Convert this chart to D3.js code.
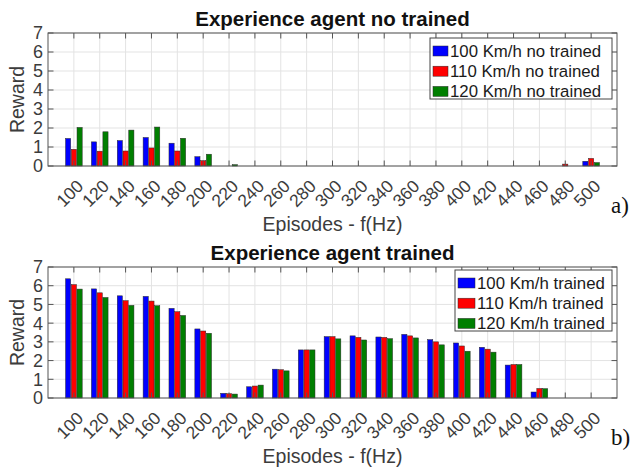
<!DOCTYPE html>
<html>
<head>
<meta charset="utf-8">
<script src="https://cdn.jsdelivr.net/npm/d3@7"></script>
<style>
  html, body { margin: 0; padding: 0; background: #fff; }
  svg { display: block; font-family: "Liberation Sans", Arial, Helvetica, sans-serif; }
</style>
</head>
<body>
<svg id="chart" width="634" height="469"></svg>
<script>
// Episode frequencies (Hz) on the x axis
const episodes = [100, 120, 140, 160, 180, 200, 220, 240, 260, 280, 300,
                  320, 340, 360, 380, 400, 420, 440, 460, 480, 500];
const yTicks = [0, 1, 2, 3, 4, 5, 6, 7];
const barColors = ["#0000ff", "#ff0000", "#007f00"];

// Agent without training
const untrainedNames = ["100 Km/h no trained", "110 Km/h no trained", "120 Km/h no trained"];
const untrained100 = [1.45, 1.27, 1.34, 1.50, 1.20, 0.49, 0, 0, 0, 0, 0, 0, 0, 0, 0, 0, 0, 0, 0, 0, 0.25];
const untrained110 = [0.88, 0.78, 0.79, 0.95, 0.79, 0.28, 0, 0, 0, 0, 0, 0, 0, 0, 0, 0, 0, 0, 0, 0.10, 0.40];
const untrained120 = [2.03, 1.80, 1.89, 2.05, 1.46, 0.62, 0.07, 0, 0, 0, 0, 0, 0, 0, 0, 0, 0, 0, 0, 0, 0.18];

// Trained agent
const trainedNames = ["100 Km/h trained", "110 Km/h trained", "120 Km/h trained"];
const trained100 = [6.37, 5.83, 5.46, 5.43, 4.79, 3.69, 0.25, 0.60, 1.54, 2.57, 3.28,
                    3.32, 3.26, 3.40, 3.12, 2.94, 2.71, 1.76, 0.32, 0, 0];
const trained110 = [6.06, 5.62, 5.20, 5.18, 4.61, 3.58, 0.23, 0.64, 1.51, 2.57, 3.28,
                    3.24, 3.24, 3.32, 3.00, 2.78, 2.61, 1.79, 0.51, 0, 0];
const trained120 = [5.82, 5.37, 4.95, 4.93, 4.41, 3.46, 0.21, 0.69, 1.45, 2.57, 3.16,
                    3.10, 3.17, 3.21, 2.84, 2.50, 2.45, 1.79, 0.50, 0, 0];

const svg = d3.select("#chart");

function drawPanel(cfg) {
  const { top, bottom, left, right, title, names, series, legendBox, tag } = cfg;
  const g = svg.append("g");

  const x = d3.scaleBand().domain(episodes).range([left, right])
    .paddingInner(0).paddingOuter(0.5);
  const step = x.step();
  const xs = d3.scaleBand().domain([0, 1, 2])
    .range([-step * 0.3335, step * 0.3335]).paddingInner(0.1).paddingOuter(0.05);
  const y = d3.scaleLinear().domain([0, 7]).range([bottom, top]);
  const cx = d => x(d) + x.bandwidth() / 2;

  // grid
  g.append("g").selectAll("line").data(episodes).join("line")
    .attr("x1", cx).attr("x2", cx).attr("y1", top).attr("y2", bottom)
    .attr("stroke", "#e3e3e3").attr("stroke-width", 1);
  g.append("g").selectAll("line").data(yTicks).join("line")
    .attr("x1", left).attr("x2", right).attr("y1", d => y(d)).attr("y2", d => y(d))
    .attr("stroke", "#e3e3e3").attr("stroke-width", 1);

  // bars
  series.forEach((vals, si) => {
    g.append("g").selectAll("rect").data(vals.map((v, i) => ({ v, e: episodes[i] })))
      .join("rect")
      .filter(d => d.v > 0)
      .attr("x", d => cx(d.e) + xs(si))
      .attr("width", xs.bandwidth())
      .attr("y", d => y(d.v))
      .attr("height", d => y(0) - y(d.v))
      .attr("fill", barColors[si])
      .attr("stroke", "#2a2a2a").attr("stroke-width", 0.5);
  });

  // frame and inward ticks
  const axisColor = "#555";
  g.append("rect").attr("x", left).attr("y", top)
    .attr("width", right - left).attr("height", bottom - top)
    .attr("fill", "none").attr("stroke", axisColor).attr("stroke-width", 1);
  const tl = 5.5;
  const tk = g.append("g").attr("stroke", axisColor).attr("stroke-width", 1);
  tk.selectAll(".xb").data(episodes).join("line").attr("class", "xb")
    .attr("x1", cx).attr("x2", cx).attr("y1", bottom).attr("y2", bottom - tl);
  tk.selectAll(".xt").data(episodes).join("line").attr("class", "xt")
    .attr("x1", cx).attr("x2", cx).attr("y1", top).attr("y2", top + tl);
  tk.selectAll(".yl").data(yTicks).join("line").attr("class", "yl")
    .attr("x1", left).attr("x2", left + tl).attr("y1", d => y(d)).attr("y2", d => y(d));
  tk.selectAll(".yr").data(yTicks).join("line").attr("class", "yr")
    .attr("x1", right).attr("x2", right - tl).attr("y1", d => y(d)).attr("y2", d => y(d));

  // tick labels
  g.append("g").selectAll("text").data(yTicks).join("text")
    .attr("x", left - 5).attr("y", d => y(d)).attr("dy", "0.36em")
    .attr("text-anchor", "end").attr("font-size", 18).attr("fill", "#3c3c3c")
    .text(d => d);
  g.append("g").selectAll("text").data(episodes).join("text")
    .attr("transform", d => `translate(${cx(d) + 6},${bottom + 17}) rotate(-45)`)
    .attr("dy", "0.36em")
    .attr("text-anchor", "end").attr("font-size", 17.5).attr("fill", "#3c3c3c")
    .text(d => d);

  // titles
  g.append("text").attr("x", (left + right) / 2).attr("y", top - 7)
    .attr("text-anchor", "middle").attr("font-size", 20.5).attr("font-weight", "bold")
    .attr("fill", "#111").text(title);
  g.append("text").attr("transform", `translate(24,${(top + bottom) / 2}) rotate(-90)`)
    .attr("text-anchor", "middle").attr("font-size", 19.5).attr("fill", "#3c3c3c")
    .text("Reward");
  g.append("text").attr("x", (left + right) / 2).attr("y", bottom + 65)
    .attr("text-anchor", "middle").attr("font-size", 19.5).attr("fill", "#3c3c3c")
    .text("Episodes - f(Hz)");
  g.append("text").attr("x", 611).attr("y", bottom + 47)
    .attr("font-family", "'Liberation Serif', 'DejaVu Serif', serif")
    .attr("font-size", 23).attr("fill", "#111").text(tag);

  // legend
  const lg = g.append("g");
  lg.append("rect").attr("x", legendBox.x).attr("y", legendBox.y)
    .attr("width", legendBox.w).attr("height", legendBox.h)
    .attr("fill", "#fff").attr("stroke", "#444").attr("stroke-width", 1);
  names.forEach((n, i) => {
    const ry = legendBox.y + 13 + i * 20.2;
    lg.append("rect").attr("x", legendBox.x + 3).attr("y", ry - 5)
      .attr("width", legendBox.sw).attr("height", 10)
      .attr("fill", barColors[i]).attr("stroke", "#2a2a2a").attr("stroke-width", 0.5);
    lg.append("text").attr("x", legendBox.x + legendBox.sw + 5).attr("y", ry)
      .attr("dy", "0.36em").attr("font-size", 16.8).attr("fill", "#1a1a1a").text(n);
  });
}

drawPanel({
  top: 33, bottom: 166, left: 48, right: 617,
  title: "Experience agent no trained",
  names: untrainedNames,
  series: [untrained100, untrained110, untrained120],
  legendBox: { x: 430, y: 38, w: 182, h: 61, sw: 15 },
  tag: "a)"
});

drawPanel({
  top: 267, bottom: 398, left: 48, right: 617,
  title: "Experience agent trained",
  names: trainedNames,
  series: [trained100, trained110, trained120],
  legendBox: { x: 455, y: 270, w: 157, h: 61, sw: 17 },
  tag: "b)"
});
</script>
</body>
</html>
